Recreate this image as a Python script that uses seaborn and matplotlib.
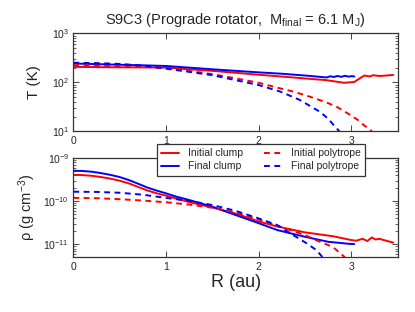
import numpy as np
import matplotlib
matplotlib.use('Agg')
import matplotlib.pyplot as plt
import seaborn as sns

# Temperature profiles (au, K)
r_T_init_clump = [0, 0.25, 0.5, 0.75, 1.0, 1.25, 1.5, 1.75, 2.0, 2.37, 2.5, 2.73, 2.92, 3.03,
                  3.09, 3.14, 3.2, 3.23, 3.3, 3.38, 3.45]
T_init_clump = [207, 205, 203, 202, 200, 185, 172, 157, 143, 126, 120, 111, 98, 102,
                121, 138, 132, 140, 135, 138, 142]

r_T_final_clump = [0, 0.25, 0.5, 0.75, 1.0, 1.25, 1.5, 1.75, 2.0, 2.25, 2.5, 2.73,
                   2.77, 2.81, 2.85, 2.89, 2.93, 2.97, 3.0, 3.03]
T_final_clump = [242, 236, 229, 223, 216, 200, 185, 172, 160, 150, 138, 126,
                 133, 129, 135, 130, 136, 131, 134, 132]

r_T_init_poly = [0, 0.25, 0.5, 0.75, 1.0, 1.25, 1.5, 1.75, 2.0, 2.2, 2.37, 2.55, 2.73,
                 2.85, 2.98, 3.07, 3.12, 3.18, 3.22]
T_init_poly = [224, 220, 214, 208, 198, 171, 147, 121, 98, 78, 65, 51, 39,
               31, 22, 17, 14, 11.5, 10]

r_T_final_poly = [0, 0.25, 0.5, 0.75, 1.0, 1.25, 1.5, 1.75, 2.0, 2.23, 2.44, 2.66,
                  2.75, 2.82, 2.87]
T_final_poly = [252, 247, 238, 220, 190, 164, 140, 111, 88, 65, 44, 25,
                18, 12.6, 10]

# Density profiles (au, g cm^-3)
r_rho_init_clump = [0, 0.1, 0.2, 0.3, 0.4, 0.5, 0.6, 0.7, 0.8, 0.9, 1.0, 1.1, 1.25, 1.5,
                    1.75, 2.0, 2.2, 2.5, 2.8, 3.0, 3.05, 3.12, 3.17, 3.22, 3.26, 3.3, 3.45]
rho_init_clump = [4.1e-10, 4.05e-10, 3.9e-10, 3.65e-10, 3.35e-10, 3.0e-10, 2.6e-10,
                  2.15e-10, 1.78e-10, 1.53e-10, 1.35e-10, 1.17e-10, 9.6e-11, 7.2e-11,
                  5.2e-11, 3.4e-11, 2.6e-11, 1.9e-11, 1.55e-11, 1.26e-11,
                  1.22e-11, 1.35e-11, 1.2e-11, 1.45e-11, 1.3e-11, 1.35e-11, 1.1e-11]

r_rho_final_clump = [0, 0.1, 0.2, 0.3, 0.4, 0.5, 0.6, 0.7, 0.8, 0.9, 1.0, 1.1, 1.25, 1.5,
                     1.75, 2.0, 2.2, 2.5, 2.75, 3.0, 3.03]
rho_final_clump = [5.1e-10, 5.05e-10, 4.85e-10, 4.5e-10, 4.1e-10, 3.65e-10, 3.1e-10,
                   2.55e-10, 2.08e-10, 1.77e-10, 1.53e-10, 1.3e-10, 1.07e-10, 7.5e-11,
                   4.8e-11, 3.1e-11, 2.15e-11, 1.5e-11, 1.15e-11, 1.02e-11, 1.02e-11]

r_rho_init_poly = [0, 0.25, 0.5, 0.75, 1.0, 1.25, 1.5, 1.75, 2.0, 2.2, 2.5, 2.62, 2.8, 2.93]
rho_init_poly = [1.2e-10, 1.18e-10, 1.12e-10, 1.04e-10, 9.5e-11, 8.4e-11, 7.1e-11,
                 5.5e-11, 3.8e-11, 2.7e-11, 1.65e-11, 1.25e-11, 8.7e-12, 5.0e-12]

r_rho_final_poly = [0, 0.25, 0.5, 0.75, 1.0, 1.25, 1.5, 1.75, 2.0, 2.2, 2.37, 2.52, 2.62, 2.69]
rho_final_poly = [1.67e-10, 1.65e-10, 1.58e-10, 1.42e-10, 1.2e-10, 1.02e-10, 8.2e-11,
                  6.0e-11, 4.0e-11, 2.8e-11, 1.65e-11, 1.05e-11, 7.4e-12, 5.0e-12]

sns.set_style('ticks')
plt.rcParams['font.family'] = ['Liberation Sans', 'DejaVu Sans']
plt.rcParams['mathtext.fontset'] = 'custom'
plt.rcParams['mathtext.rm'] = 'Liberation Sans'
plt.rcParams['mathtext.it'] = 'Liberation Sans:italic'
plt.rcParams['mathtext.default'] = 'regular'

fig = plt.figure(figsize=(4.15, 3.12), dpi=100)
ax1 = fig.add_axes([0.1767, 0.579, 0.782, 0.314])
ax2 = fig.add_axes([0.1767, 0.175, 0.782, 0.318])

red = '#ff0000'
blue = '#0000ff'
lw = 1.4
dash = (0, (3, 2.3))

sns.lineplot(x=r_T_init_clump, y=T_init_clump, color=red, lw=lw, ax=ax1)
sns.lineplot(x=r_T_final_clump, y=T_final_clump, color=blue, lw=lw, ax=ax1)
sns.lineplot(x=r_T_init_poly, y=T_init_poly, color=red, lw=lw, ls=dash, ax=ax1)
sns.lineplot(x=r_T_final_poly, y=T_final_poly, color=blue, lw=lw, ls=dash, ax=ax1)

sns.lineplot(x=r_rho_init_clump, y=rho_init_clump, color=red, lw=lw, ax=ax2, label='Initial clump')
sns.lineplot(x=r_rho_final_clump, y=rho_final_clump, color=blue, lw=lw, ax=ax2, label='Final clump')
sns.lineplot(x=r_rho_init_poly, y=rho_init_poly, color=red, lw=lw, ls=dash, ax=ax2, label='Initial polytrope')
sns.lineplot(x=r_rho_final_poly, y=rho_final_poly, color=blue, lw=lw, ls=dash, ax=ax2, label='Final polytrope')

for ax in (ax1, ax2):
    ax.set_yscale('log')
    ax.set_xlim(0, 3.5)
    ax.set_xticks([0, 1, 2, 3])
    ax.tick_params(which='both', direction='in', top=True, right=True, labelsize=7.5, pad=3)
    ax.tick_params(which='major', length=4, width=0.6)
    ax.tick_params(which='minor', length=2, width=0.5)
    for s in ax.spines.values():
        s.set_linewidth(0.9)
        s.set_color('#333333')

ax1.set_ylim(10, 1000)
ax2.set_ylim(5e-12, 1e-9)

ax1.set_ylabel('T (K)', fontsize=11, labelpad=8)
ax2.set_ylabel(r'$\rho$ (g cm$^{-3}$)', fontsize=10.5, labelpad=4)
ax2.set_xlabel('R (au)', fontsize=13, labelpad=2)
ax1.set_title(r'S9C3 (Prograde rotator,  M$_{final}$ = 6.1 M$_{J}$)', fontsize=10.5, pad=7)

handles, labels = ax2.get_legend_handles_labels()
ax2.get_legend().remove()
leg = fig.legend(handles, labels, ncol=2,
                 loc='upper left', bbox_to_anchor=(0.378, 0.538), borderaxespad=0,
                 fontsize=7.5, frameon=True, fancybox=False, edgecolor='#333333',
                 framealpha=1, handlelength=1.7, handletextpad=0.9,
                 columnspacing=2.0, borderpad=0.4, labelspacing=0.3)
leg.get_frame().set_linewidth(0.9)

fig.savefig('out.png', dpi=100)
